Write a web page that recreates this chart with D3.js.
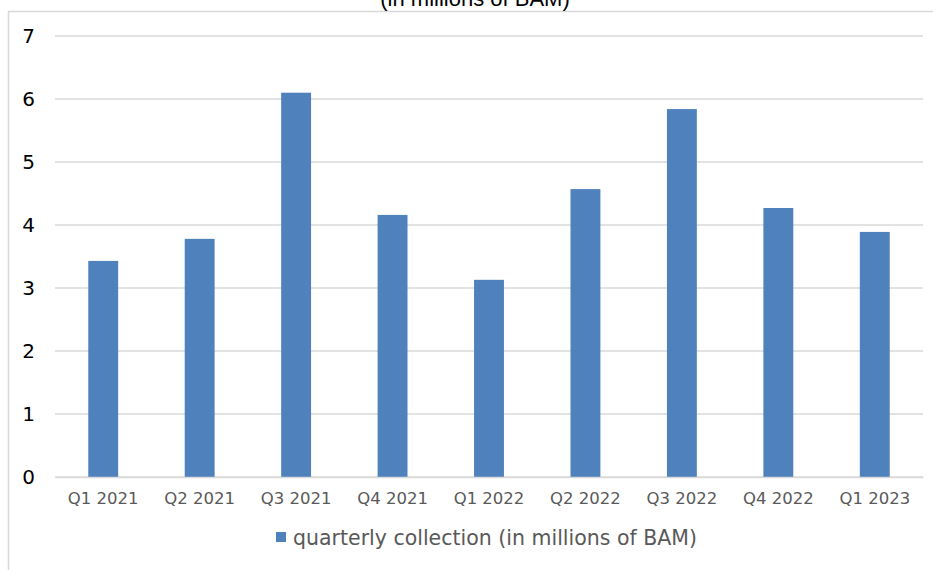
<!DOCTYPE html>
<html>
<head>
<meta charset="utf-8">
<script src="https://cdn.jsdelivr.net/npm/d3@7"></script>
<style>
  body { margin: 0; background: #fff; }
</style>
</head>
<body>
<div id="chart"></div>
<script>
// donnees
const quarters = ["Q1 2021", "Q2 2021", "Q3 2021", "Q4 2021", "Q1 2022", "Q2 2022", "Q3 2022", "Q4 2022", "Q1 2023"];
const collection = [3.43, 3.78, 6.10, 4.16, 3.13, 4.57, 5.84, 4.27, 3.89];
const yTicks = [0, 1, 2, 3, 4, 5, 6, 7];
const seriesName = "quarterly collection (in millions of BAM)";

const width = 933,
    height = 570;
const plot = { left: 55, right: 923, top: 36, bottom: 477 };

const svg = d3.select("#chart")
    .append("svg")
    .attr("width", width)
    .attr("height", height);

// cadre du graphique
svg.append("path")
    .attr("d", "M8.5," + height + " V11.5 H" + width)
    .attr("fill", "none")
    .attr("stroke", "#d9d9d9")
    .attr("stroke-width", 1.5);

// titre (coupe en haut, comme l'original)
svg.append("text")
    .attr("x", 475)
    .attr("y", 6)
    .attr("text-anchor", "middle")
    .style("font-family", "'Liberation Sans', Arial, sans-serif")
    .style("font-size", "22px")
    .style("fill", "#000")
    .text("(in millions of BAM)");

const x = d3.scaleBand()
    .domain(quarters)
    .range([plot.left, plot.right])
    .paddingInner(0.69)
    .paddingOuter(0.345);

const y = d3.scaleLinear()
    .domain([0, 7])
    .range([plot.bottom, plot.top]);

// grille
svg.append("g")
    .selectAll("line")
    .data(yTicks)
    .join("line")
    .attr("x1", plot.left)
    .attr("x2", plot.right)
    .attr("y1", d => y(d))
    .attr("y2", d => y(d))
    .attr("stroke", "#d9d9d9")
    .attr("stroke-width", 1.5);

// axe y
const yAxis = svg.append("g")
    .attr("transform", "translate(" + (plot.left - 20) + ",0)")
    .call(d3.axisLeft(y).tickValues(yTicks).tickFormat(d3.format("d")).tickSize(0).tickPadding(0));
yAxis.select(".domain").remove();
yAxis.selectAll("text")
    .style("font-family", "'DejaVu Sans', Verdana, sans-serif")
    .style("font-size", "20px")
    .style("fill", "#000");

// barres
svg.append("g")
    .selectAll("rect")
    .data(collection)
    .join("rect")
    .attr("x", (d, i) => x(quarters[i]))
    .attr("y", d => y(d))
    .attr("width", x.bandwidth())
    .attr("height", d => y(0) - y(d))
    .attr("fill", "#4f81bd");

// axe x
const xAxis = svg.append("g")
    .attr("transform", "translate(0," + plot.bottom + ")")
    .call(d3.axisBottom(x).tickSize(0).tickPadding(15));
xAxis.select(".domain")
    .attr("stroke", "#d9d9d9")
    .attr("stroke-width", 1.5);
xAxis.selectAll("text")
    .style("font-family", "'DejaVu Sans', Verdana, sans-serif")
    .style("font-size", "16.5px")
    .style("fill", "#595959");

// legende
const legend = svg.append("g").attr("transform", "translate(276,532)");
legend.append("rect")
    .attr("width", 10)
    .attr("height", 10)
    .attr("fill", "#4f81bd");
legend.append("text")
    .attr("x", 17)
    .attr("y", 13)
    .style("font-family", "'DejaVu Sans', Verdana, sans-serif")
    .style("font-size", "20.5px")
    .style("fill", "#595959")
    .text(seriesName);
</script>
</body>
</html>
